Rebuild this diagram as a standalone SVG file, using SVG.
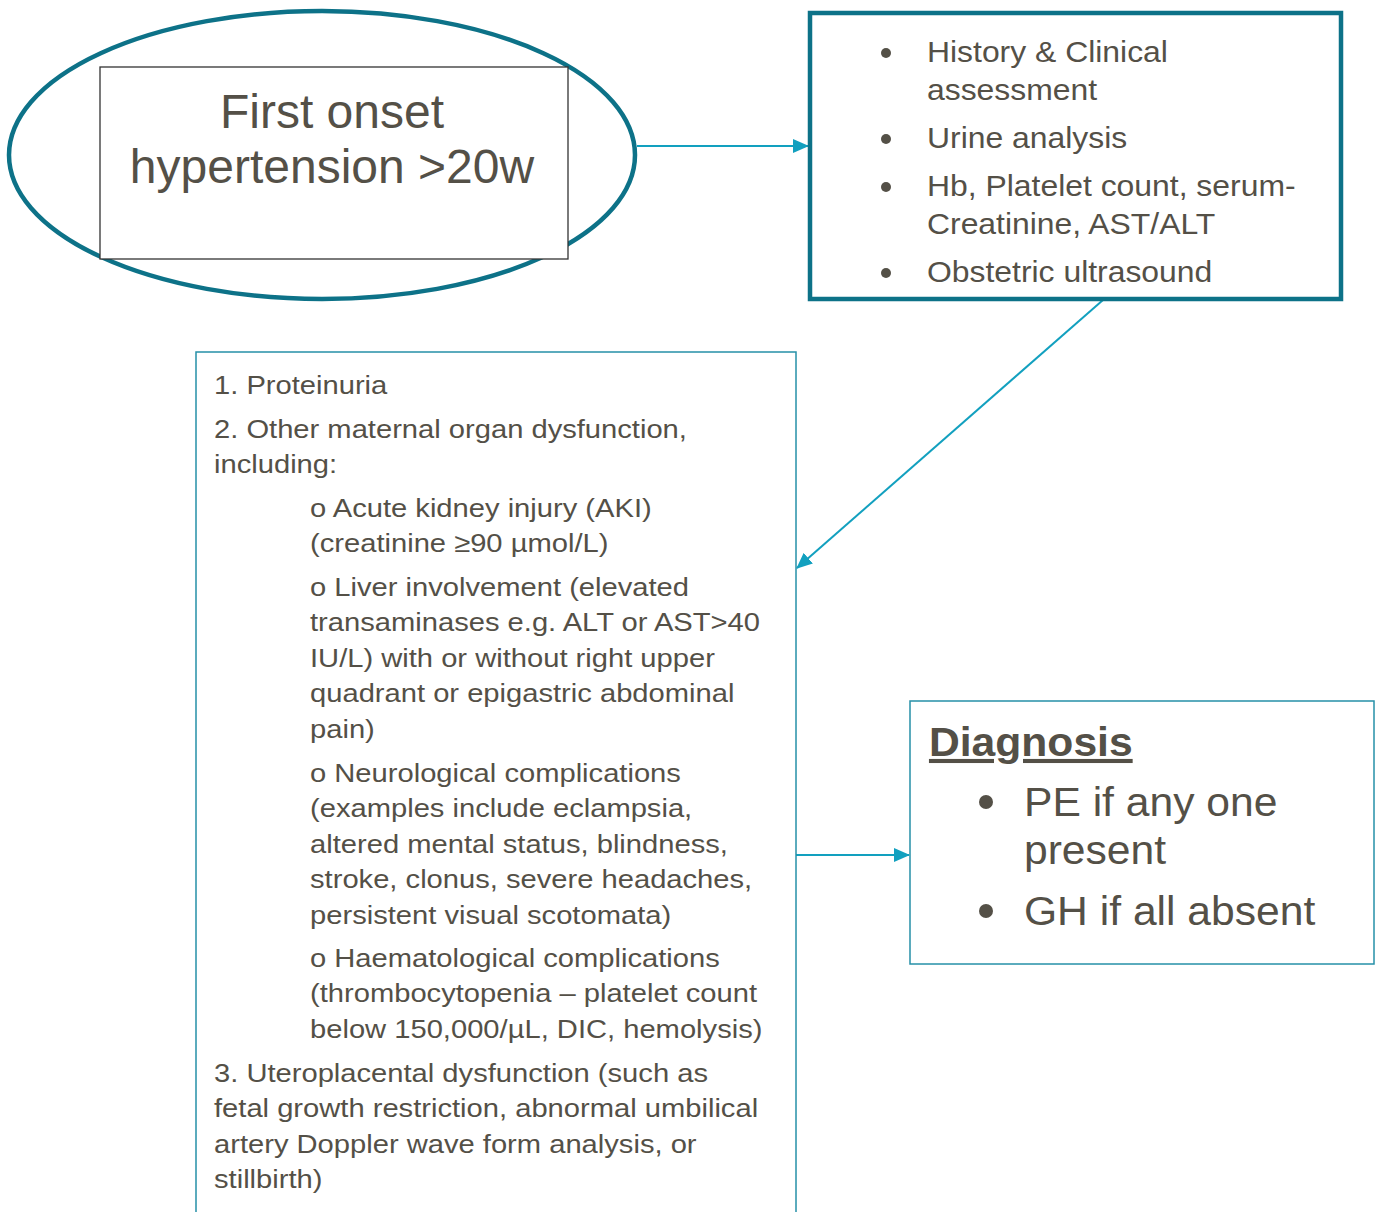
<svg xmlns="http://www.w3.org/2000/svg" width="1379" height="1212" viewBox="0 0 1379 1212">
<style>
.t{font-family:"Liberation Sans",Arial,sans-serif;fill:#545047}
.s26{font-size:26.5px}
.s29{font-size:29px}
.s41{font-size:41px}
.conn{stroke:#12a0bf;stroke-width:2;fill:none}
.thick{fill:#fff;stroke:#0d7288;stroke-width:4.5}
.thin{fill:#fff;stroke:#2690a8;stroke-width:1.5}
</style>
<defs>
<marker id="ah" markerUnits="userSpaceOnUse" markerWidth="16" markerHeight="14" refX="15" refY="7" orient="auto">
<path d="M0,0 L16,7 L0,14 Z" fill="#12a0bf"/>
</marker>
</defs>
<rect width="1379" height="1212" fill="#fff"/>
<g id="connectors">
<line class="conn" x1="637" y1="146" x2="808" y2="146" marker-end="url(#ah)"/>
<line class="conn" x1="1103" y1="300" x2="797" y2="568" marker-end="url(#ah)"/>
<line class="conn" x1="796" y1="855" x2="909" y2="855" marker-end="url(#ah)"/>
</g>
<g id="start">
<ellipse cx="322" cy="155" rx="313" ry="144" fill="#fff" stroke="#0d7288" stroke-width="4.5"/>
<rect x="100" y="67" width="468" height="192" fill="#fff" stroke="#333" stroke-width="1.3"/>
<text class="t" font-size="48" text-anchor="middle"><tspan x="332" y="128">First onset</tspan><tspan x="332" y="183">hypertension &gt;20w</tspan></text>
</g>
<g id="assessment">
<rect class="thick" x="810" y="13" width="531" height="286"/>
<g fill="#545047"><circle cx="886" cy="53" r="5"/><circle cx="886" cy="139" r="5"/><circle cx="886" cy="187" r="5"/><circle cx="886" cy="273" r="5"/></g>
<text class="t s29" transform="matrix(1.1,0,0,1,-92.7,0)"><tspan x="927" y="62">History &amp; Clinical</tspan><tspan x="927" y="100">assessment</tspan><tspan x="927" y="148">Urine analysis</tspan><tspan x="927" y="196">Hb, Platelet count, serum-</tspan><tspan x="927" y="234">Creatinine, AST/ALT</tspan><tspan x="927" y="282">Obstetric ultrasound</tspan></text>
</g>
<g id="criteria">
<rect class="thin" x="196" y="352" width="600" height="880"/>
<text class="t s26" transform="matrix(1.1,0,0,1,-21.4,0)">
<tspan x="214" y="394">1. Proteinuria</tspan>
<tspan x="214" y="438">2. Other maternal organ dysfunction,</tspan>
<tspan x="214" y="473">including:</tspan>
<tspan x="301.3" y="517">o Acute kidney injury (AKI)</tspan>
<tspan x="301.3" y="552">(creatinine ≥90 µmol/L)</tspan>
<tspan x="301.3" y="596">o Liver involvement (elevated</tspan>
<tspan x="301.3" y="631">transaminases e.g. ALT or AST&gt;40</tspan>
<tspan x="301.3" y="667">IU/L) with or without right upper</tspan>
<tspan x="301.3" y="702">quadrant or epigastric abdominal</tspan>
<tspan x="301.3" y="738">pain)</tspan>
<tspan x="301.3" y="782">o Neurological complications</tspan>
<tspan x="301.3" y="817">(examples include eclampsia,</tspan>
<tspan x="301.3" y="853">altered mental status, blindness,</tspan>
<tspan x="301.3" y="888">stroke, clonus, severe headaches,</tspan>
<tspan x="301.3" y="924">persistent visual scotomata)</tspan>
<tspan x="301.3" y="967">o Haematological complications</tspan>
<tspan x="301.3" y="1002">(thrombocytopenia – platelet count</tspan>
<tspan x="301.3" y="1038">below 150,000/µL, DIC, hemolysis)</tspan>
<tspan x="214" y="1082">3. Uteroplacental dysfunction (such as</tspan>
<tspan x="214" y="1117">fetal growth restriction, abnormal umbilical</tspan>
<tspan x="214" y="1153">artery Doppler wave form analysis, or</tspan>
<tspan x="214" y="1188">stillbirth)</tspan>
</text>
</g>
<g id="diagnosis">
<rect class="thin" x="910" y="701" width="464" height="263"/>
<text class="t s41" x="929" y="756" font-weight="bold" text-decoration="underline" transform="matrix(1.04,0,0,1,-37.2,0)">Diagnosis</text>
<g fill="#545047"><circle cx="986" cy="802" r="7"/><circle cx="986" cy="911" r="7"/></g>
<text class="t s41" transform="matrix(1.04,0,0,1,-41,0)"><tspan x="1024" y="816">PE if any one</tspan><tspan x="1024" y="864">present</tspan><tspan x="1024" y="925">GH if all absent</tspan></text>
</g>
</svg>
